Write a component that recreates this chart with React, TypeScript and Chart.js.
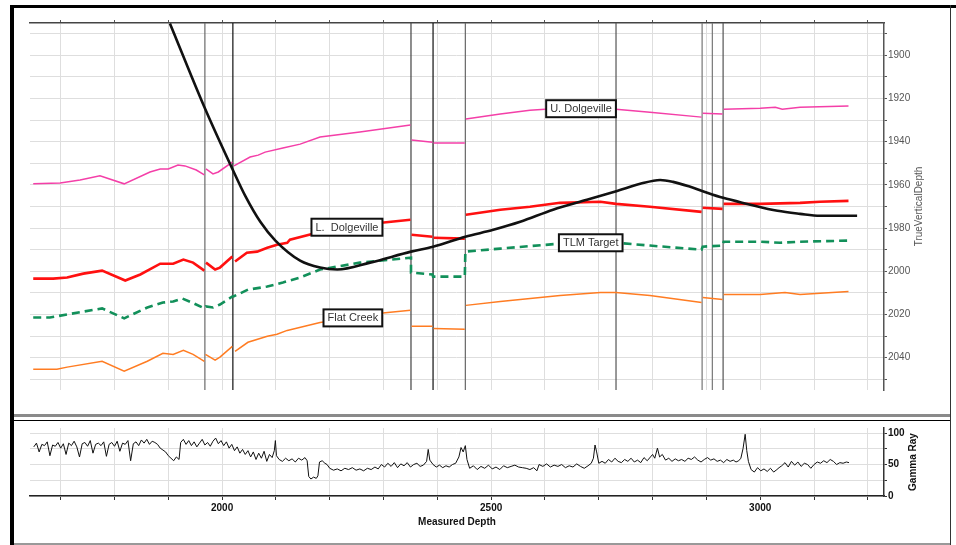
import React, { useEffect, useRef } from "react";
import { Chart, registerables } from "chart.js";

Chart.register(...registerables);

const FONT = '"Liberation Sans", Arial, Helvetica, sans-serif';

// ---- axis ranges / ticks ----
const mdMin = 1643;
const mdMax = 3230;
const tvdMin = 1885;
const tvdMax = 2055;
const mdTicks = [1700, 1800, 1900, 2000, 2100, 2200, 2300, 2400, 2500, 2600, 2700, 2800, 2900, 3000, 3100, 3200];
const mdLabels = [2000, 2500, 3000];
const tvdTicks = [1890, 1900, 1910, 1920, 1930, 1940, 1950, 1960, 1970, 1980, 1990, 2000, 2010, 2020, 2030, 2040, 2050];
const tvdLabels = [1900, 1920, 1940, 1960, 1980, 2000, 2020, 2040];
const grMin = 0;
const grMax = 108;
const grTicks = [0, 25, 50, 75, 100];
const grLabels = [0, 50, 100];

// ---- well path ----
const wellMD = [1903, 1968, 2020, 2043, 2071, 2099, 2145, 2182, 2214, 2275, 2351, 2392, 2452, 2504, 2554, 2615, 2678, 2734, 2777, 2814, 2838, 2870, 2892, 2931, 2976, 3032, 3074, 3111, 3180];
const wellTVD = [1885.2, 1924.5, 1953.1, 1965.1, 1977.1, 1985.8, 1995.1, 1998.3, 1999.2, 1996, 1990.9, 1988.6, 1984, 1980.8, 1977.1, 1971.5, 1966.9, 1962.8, 1959.5, 1957.7, 1958.6, 1960.9, 1962.8, 1966, 1968.8, 1972, 1973.4, 1974.3, 1974.3];

// ---- faults ----
const faultMD = [1968, 2020, 2351, 2392, 2452, 2732, 2892, 2911, 2931];
const faultColor = ["#6a6a6a", "#111111", "#444444", "#111111", "#666666", "#555555", "#777777", "#777777", "#555555"];

// ---- formations (null = break at a fault) ----
const uDolMD = [1649, 1699, 1736, 1773, 1818, 1866, 1885, 1900, 1918, 1931, 1952, 1967, 1968, 1970, 1983, 1993, 2019, 2020, 2022, 2052, 2067, 2080, 2113, 2145, 2182, 2256, 2350, 2351, 2352, 2391, 2392, 2393, 2451, 2452, 2453, 2517, 2572, 2628, 2684, 2732, 2795, 2891, 2892, 2893, 2930, 2931, 2932, 3000, 3028, 3041, 3074, 3164];
const uDolTVD = [1959.5, 1959.1, 1957.7, 1955.8, 1959.5, 1954, 1952.6, 1952.6, 1950.8, 1951.2, 1953.1, 1955.4, null, 1952.6, 1954.9, 1954, 1949.4, null, 1951.2, 1947.1, 1946.2, 1944.8, 1942.9, 1941.1, 1937.8, 1935.5, 1932.3, null, 1939.2, 1940.2, null, 1940.6, 1940.6, null, 1929.5, 1927.2, 1925.4, 1924.5, 1924, 1924.9, 1926.3, 1928.6, null, 1926.8, 1927.2, null, 1924.9, 1924.5, 1924, 1924.9, 1924, 1923.5];

const lDolMD = [1649, 1686, 1712, 1742, 1777, 1820, 1848, 1885, 1909, 1928, 1946, 1967, 1968, 1970, 1987, 1996, 2019, 2020, 2024, 2046, 2065, 2084, 2102, 2121, 2126, 2169, 2219, 2256, 2296, 2350, 2351, 2352, 2391, 2392, 2393, 2451, 2452, 2453, 2517, 2572, 2628, 2703, 2732, 2795, 2891, 2892, 2893, 2930, 2931, 2932, 3000, 3074, 3111, 3164];
const lDolTVD = [2003.4, 2003.4, 2002.9, 2001.1, 1999.7, 2004.3, 2001.5, 1996.5, 1996.5, 1994.6, 1996, 1999.7, null, 1996, 1999.2, 1998.3, 1993.2, null, 1995.5, 1991.4, 1990.9, 1989.1, 1987.7, 1986.8, 1985.4, 1982.6, 1980.3, 1978.9, 1977.5, 1976.1, null, 1983.1, 1984, null, 1984.5, 1984.9, null, 1973.8, 1971.5, 1970.1, 1968.3, 1967.8, 1968.8, 1970.1, 1972.5, null, 1970.6, 1971.1, null, 1968.8, 1968.8, 1968.3, 1967.8, 1967.4];

const tlmMD = [1649, 1680, 1712, 1777, 1818, 1861, 1890, 1909, 1926, 1944, 1967, 1970, 1983, 1996, 2019, 2021, 2048, 2084, 2113, 2145, 2182, 2256, 2351, 2351, 2391, 2392, 2451, 2452, 2517, 2628, 2703, 2732, 2795, 2891, 2893, 2930, 2932, 3000, 3037, 3074, 3164];
const tlmTVD = [2021.4, 2021.4, 2020, 2017.2, 2021.8, 2016.8, 2014.5, 2014, 2012.6, 2014.5, 2017.2, 2016.3, 2016.8, 2015.4, 2011.7, 2011.7, 2008.5, 2007.1, 2005.2, 2002.9, 1999.2, 1996, 1993.7, 2000.6, 2001.5, 2002.5, 2002.5, 1990.9, 1989.5, 1987.2, 1986.8, 1986.8, 1988.1, 1990, 1988.6, 1988.1, 1986.3, 1986.3, 1986.8, 1986.3, 1985.8];

const flatMD = [1649, 1693, 1712, 1777, 1818, 1861, 1890, 1909, 1928, 1946, 1967, 1968, 1969, 1987, 1996, 2019, 2020, 2024, 2048, 2084, 2102, 2121, 2182, 2219, 2294, 2350, 2351, 2352, 2391, 2392, 2393, 2451, 2452, 2453, 2517, 2628, 2703, 2732, 2795, 2891, 2892, 2893, 2930, 2931, 2932, 3000, 3046, 3074, 3164];
const flatTVD = [2045.4, 2045.4, 2044.4, 2041.7, 2046.3, 2041.7, 2038, 2038.5, 2036.6, 2038.5, 2041.7, null, 2038.5, 2041.2, 2039.8, 2034.8, null, 2037.1, 2032.9, 2030.1, 2029.2, 2027.4, 2023.7, 2022.3, 2019.5, 2018.1, null, 2025.5, 2025.5, null, 2026.5, 2026.9, null, 2015.8, 2014, 2011.2, 2009.8, 2009.8, 2011.2, 2014.5, null, 2012.1, 2013.1, null, 2010.8, 2010.8, 2009.8, 2010.8, 2009.4];

// ---- formation labels ----
const labelText = ["U. Dolgeville", "L.  Dolgeville", "TLM Target", "Flat Creek"];
const labelMD = [2667, 2232, 2685, 2243];
const labelTVD = [1924.7, 1979.6, 1986.8, 2021.6];

// ---- gamma ray ----
const grMD = [
  1650, 1655, 1660, 1665, 1670, 1675, 1680, 1685, 1690, 1695, 1700, 1705, 1710, 1715, 1720, 1725, 1730, 1735, 1740, 1745, 1750, 1755, 1760, 1765, 1770, 1775, 1780, 1785, 1790, 1795, 1800, 1805, 1810, 1815, 1820, 1825, 1830, 1835, 1840, 1845, 1850, 1855, 1860, 1865, 1870, 1875,
  1880, 1885, 1890, 1895, 1900, 1905, 1910, 1915, 1920, 1923, 1928, 1933,
  1938, 1943, 1948, 1953, 1958, 1963, 1968, 1973, 1978, 1983, 1988, 1993, 1998, 2003, 2008,
  2013, 2018, 2023, 2028, 2033, 2038, 2043, 2048,
  2053, 2058, 2063, 2068, 2073, 2078, 2083, 2088, 2093, 2097, 2099, 2101,
  2106, 2112, 2118, 2124, 2130, 2136, 2142, 2148, 2154, 2158,
  2161, 2165, 2170, 2175, 2178,
  2181, 2186, 2191, 2195,
  2200, 2207, 2214, 2221, 2228, 2235, 2242, 2249, 2256, 2263, 2270, 2277, 2284, 2290,
  2296, 2302, 2308, 2314, 2320, 2326, 2332, 2338, 2344, 2350, 2356, 2362, 2368, 2374, 2380, 2383, 2386,
  2392, 2398, 2404, 2410, 2416, 2422, 2428, 2434, 2440, 2444, 2448, 2452, 2455,
  2460, 2467, 2474, 2481, 2488, 2495, 2502, 2509, 2516, 2523, 2530, 2537, 2544, 2551, 2558, 2565, 2572, 2579,
  2585, 2589, 2596, 2603, 2610, 2617, 2624, 2631, 2638, 2645, 2652, 2659, 2666, 2673, 2680, 2686, 2690, 2693, 2696, 2700,
  2706, 2712, 2718, 2724, 2730, 2736, 2742, 2748, 2754, 2760, 2766, 2772, 2778, 2784, 2790, 2796, 2800, 2804, 2809, 2813,
  2818, 2824, 2830, 2836, 2842, 2848, 2854,
  2860, 2866, 2872, 2878, 2884, 2890, 2896, 2902, 2908, 2914, 2920, 2926, 2932, 2938, 2944, 2950, 2955, 2960, 2964, 2968, 2972, 2975, 2978,
  2983, 2989, 2995, 3001, 3007, 3013, 3019, 3025, 3031, 3035,
  3040, 3046, 3052, 3058, 3064, 3070, 3076, 3082, 3088, 3094,
  3100, 3106, 3112, 3118, 3124, 3130, 3136, 3142, 3148, 3154, 3160, 3165,
];
const grVal = [
  78, 84, 70, 82, 80, 86, 64, 81, 79, 85, 76, 83, 66, 84, 80, 87, 78, 62, 83, 85, 79, 88, 68, 82, 84, 80, 86, 63, 82, 85, 79, 87, 71, 84, 82, 88, 56, 83, 86, 80, 89, 84, 90, 82, 87, 85,
  82, 76, 73, 70, 64, 60, 56, 62, 58, 85, 90, 82,
  88, 80, 86, 78, 84, 90, 81, 85, 79, 87, 92, 83, 88, 80, 86,
  76, 82, 72, 78, 68, 74, 66, 72,
  62, 70, 58, 68, 60, 71, 55, 66, 61, 72, 88, 64,
  58, 55, 60, 56, 59, 54, 60, 57, 61, 56,
  31, 27, 30, 28, 32,
  54, 56, 52, 50,
  44, 41, 43, 40, 44, 42, 45, 41, 43, 40, 44, 42, 46, 43,
  50, 46, 52, 47, 53, 45, 51, 48, 53, 46, 50, 52, 47, 49, 55, 74, 57,
  50, 46, 49, 45, 48, 46, 50, 52, 62, 77, 70, 80, 58,
  44, 48, 42, 47, 44, 49, 43, 46, 42, 48, 45, 47, 49, 46, 45, 44, 42, 45,
  40, 50, 47, 51, 46, 49, 47, 50, 45, 48, 46, 51, 47, 44, 48, 52, 60, 81, 70, 52,
  55, 52, 58, 54, 60, 55, 53, 58, 55, 60, 54, 57, 53, 61, 56, 62, 66, 60, 76, 62,
  66, 57, 60, 55, 59, 56, 58,
  55, 60, 58, 62, 57, 54, 58, 61, 57, 59, 55, 57, 53, 58, 55, 57, 54, 56, 60, 75, 98, 72, 55,
  42, 38, 45, 40, 43, 39, 44, 38, 42, 45,
  48, 53, 46, 55, 49, 54, 47, 52, 50, 44,
  50, 54, 52, 56, 53, 58, 55, 50, 53, 52, 54, 53,
];

const pts = (xs: number[], ys: (number | null)[]) => xs.map((x, i) => ({ x, y: ys[i] }));

const labelsPlugin = {
  id: "formationLabels",
  afterDatasetsDraw(chart: any) {
    const { ctx, scales } = chart;
    ctx.save();
    ctx.font = `11px ${FONT}`;
    ctx.textAlign = "center";
    ctx.textBaseline = "middle";
    labelText.forEach((t, i) => {
      const x = scales.x.getPixelForValue(labelMD[i]);
      const y = scales.y.getPixelForValue(labelTVD[i]);
      const w = ctx.measureText(t).width + 8;
      const h = 17;
      ctx.fillStyle = "#ffffff";
      ctx.fillRect(x - w / 2, y - h / 2, w, h);
      ctx.lineWidth = 2;
      ctx.strokeStyle = "#111";
      ctx.strokeRect(x - w / 2, y - h / 2, w, h);
      ctx.fillStyle = "#333";
      ctx.fillText(t, x, y + 0.5);
    });
    ctx.restore();
  },
};

const topTitlePlugin = {
  id: "topTitle",
  afterDraw(chart: any) {
    const { ctx, chartArea } = chart;
    ctx.save();
    ctx.translate(905, (chartArea.top + chartArea.bottom) / 2);
    ctx.rotate(-Math.PI / 2);
    ctx.font = `10px ${FONT}`;
    ctx.fillStyle = "#555";
    ctx.textAlign = "center";
    ctx.textBaseline = "middle";
    ctx.fillText("TrueVerticalDepth", 0, 0);
    ctx.restore();
  },
};

const bottomTitlePlugin = {
  id: "bottomTitle",
  afterDraw(chart: any) {
    const { ctx, chartArea } = chart;
    ctx.save();
    ctx.font = `bold 10px ${FONT}`;
    ctx.fillStyle = "#111";
    ctx.textAlign = "center";
    ctx.textBaseline = "middle";
    ctx.fillText("Measured Depth", (chartArea.left + chartArea.right) / 2, 101);
    ctx.translate(899, (chartArea.top + chartArea.bottom) / 2);
    ctx.rotate(-Math.PI / 2);
    ctx.fillText("Gamma Ray", 0, 0);
    ctx.restore();
  },
};

export default function App() {
  const topRef = useRef<HTMLCanvasElement>(null);
  const botRef = useRef<HTMLCanvasElement>(null);

  useEffect(() => {
    Chart.defaults.font.family = FONT;
    const faultSets = faultMD.map((md, i) => ({
      data: [{ x: md, y: tvdMin }, { x: md, y: tvdMax }],
      borderColor: faultColor[i],
      borderWidth: 1.2,
      pointRadius: 0,
      order: 10,
    }));
    const top = new Chart(topRef.current as HTMLCanvasElement, {
      type: "line",
      data: {
        datasets: [
          { label: "Well", data: pts(wellMD, wellTVD), borderColor: "#111", borderWidth: 2.6, pointRadius: 0, cubicInterpolationMode: "monotone", order: 0 },
          { label: "U. Dolgeville", data: pts(uDolMD, uDolTVD), borderColor: "#f43fa8", borderWidth: 1.5, pointRadius: 0, spanGaps: false, order: 1 },
          { label: "L. Dolgeville", data: pts(lDolMD, lDolTVD), borderColor: "#ff1010", borderWidth: 2.6, pointRadius: 0, spanGaps: false, order: 1 },
          { label: "TLM Target", data: pts(tlmMD, tlmTVD), borderColor: "#12905a", borderWidth: 2.6, borderDash: [8, 5], pointRadius: 0, order: 1 },
          { label: "Flat Creek", data: pts(flatMD, flatTVD), borderColor: "#ff7c22", borderWidth: 1.5, pointRadius: 0, spanGaps: false, order: 1 },
          ...faultSets,
        ] as any,
      },
      options: {
        responsive: false,
        animation: false,
        devicePixelRatio: 1,
        events: [],
        layout: { padding: { left: 16, top: 12, right: 0, bottom: 24 } },
        plugins: { legend: { display: false }, tooltip: { enabled: false } },
        scales: {
          x: {
            type: "linear",
            position: "top",
            min: mdMin,
            max: mdMax,
            afterBuildTicks: (a: any) => { a.ticks = mdTicks.map((v) => ({ value: v })); },
            afterFit: (s: any) => { s.height = 3; },
            ticks: { display: false },
            grid: { color: "#dedede", lineWidth: 1, tickLength: 3, tickColor: "#555" },
            border: { display: true, color: "#444", width: 1.5 },
          },
          y: {
            type: "linear",
            position: "right",
            reverse: true,
            min: tvdMin,
            max: tvdMax,
            afterBuildTicks: (a: any) => { a.ticks = tvdTicks.map((v) => ({ value: v })); },
            afterFit: (s: any) => { s.width = 66; },
            ticks: {
              autoSkip: false,
              padding: 1,
              color: "#555",
              font: { size: 10, family: FONT },
              callback: (v: any) => (tvdLabels.includes(Number(v)) ? String(v) : ""),
            },
            grid: { color: "#dedede", lineWidth: 1, tickLength: 3, tickColor: "#555" },
            border: { display: true, color: "#555", width: 1.5 },
          },
        },
      } as any,
      plugins: [labelsPlugin, topTitlePlugin],
    });

    const bot = new Chart(botRef.current as HTMLCanvasElement, {
      type: "line",
      data: {
        datasets: [
          { label: "Gamma Ray", data: pts(grMD, grVal), borderColor: "#111", borderWidth: 1, pointRadius: 0 },
        ],
      },
      options: {
        responsive: false,
        animation: false,
        devicePixelRatio: 1,
        events: [],
        layout: { padding: { left: 16, top: 7, right: 0, bottom: 21 } },
        plugins: { legend: { display: false }, tooltip: { enabled: false } },
        scales: {
          x: {
            type: "linear",
            position: "bottom",
            min: mdMin,
            max: mdMax,
            afterBuildTicks: (a: any) => { a.ticks = mdTicks.map((v) => ({ value: v })); },
            afterFit: (s: any) => { s.height = 26; },
            ticks: {
              autoSkip: false,
              maxRotation: 0,
              padding: 2,
              color: "#111",
              font: { size: 10, weight: "bold", family: FONT },
              callback: (v: any) => (mdLabels.includes(Number(v)) ? String(v) : ""),
            },
            grid: { color: "#dedede", lineWidth: 1, tickLength: 4, tickColor: "#333" },
            border: { display: true, color: "#222", width: 1.5 },
          },
          y: {
            type: "linear",
            position: "right",
            min: grMin,
            max: grMax,
            afterBuildTicks: (a: any) => { a.ticks = grTicks.map((v) => ({ value: v })); },
            afterFit: (s: any) => { s.width = 66; },
            ticks: {
              autoSkip: false,
              padding: 1,
              color: "#111",
              font: { size: 10, weight: "bold", family: FONT },
              callback: (v: any) => (grLabels.includes(Number(v)) ? String(v) : ""),
            },
            grid: { color: "#dedede", lineWidth: 1, tickLength: 3, tickColor: "#333" },
            border: { display: true, color: "#333", width: 1.5 },
          },
        },
      } as any,
      plugins: [bottomTitlePlugin],
    });

    return () => {
      top.destroy();
      bot.destroy();
    };
  }, []);

  const abs = (l: number, t: number, w: number, h: number, bg: string): React.CSSProperties => ({
    position: "absolute", left: l, top: t, width: w, height: h, background: bg,
  });

  return (
    <div style={{ position: "absolute", left: 0, top: 0, width: 956, height: 545, background: "#fff", overflow: "hidden" }}>
      <canvas ref={topRef} width={936} height={406} style={{ position: "absolute", left: 14, top: 8, width: 936, height: 406 }} />
      <canvas ref={botRef} width={936} height={122} style={{ position: "absolute", left: 14, top: 421, width: 936, height: 122 }} />
      <div style={abs(10, 5, 4, 540, "#000")} />
      <div style={abs(10, 5, 946, 3, "#000")} />
      <div style={abs(950, 5, 1, 540, "#333")} />
      <div style={abs(14, 414, 936, 3, "#8a8a8a")} />
      <div style={abs(14, 420, 936, 1, "#000")} />
      <div style={abs(14, 543, 936, 2, "#999")} />
    </div>
  );
}
